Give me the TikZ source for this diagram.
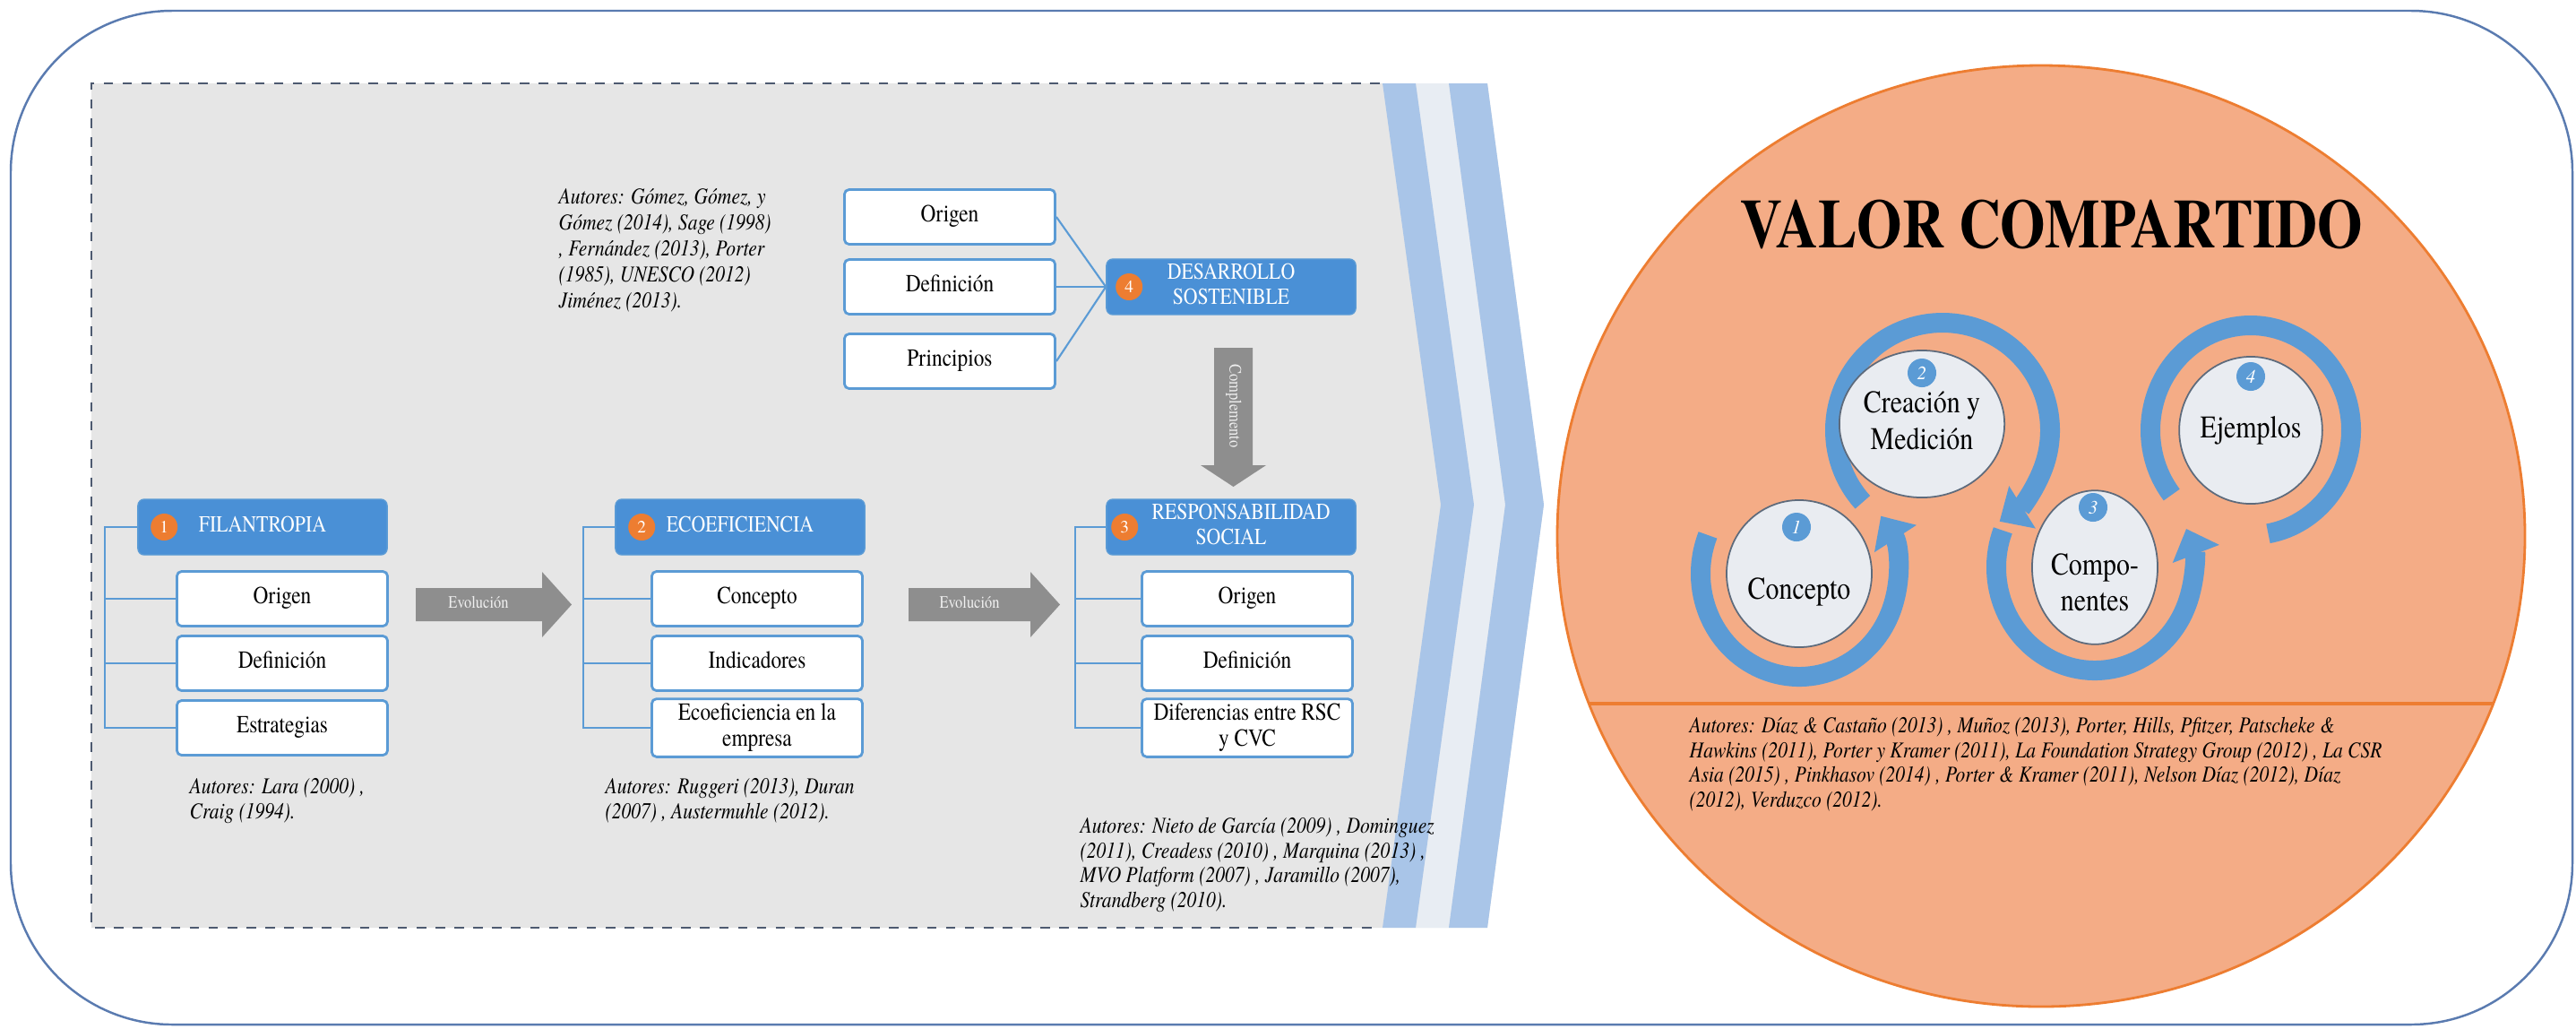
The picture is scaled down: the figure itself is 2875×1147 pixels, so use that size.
\documentclass[tikz,border=0pt]{standalone}
\usepackage{fontspec}
\setmainfont{texgyretermes}[Extension=.otf, UprightFont=*-regular, BoldFont=*-bold, ItalicFont=*-italic, BoldItalicFont=*-bolditalic]
\usetikzlibrary{arrows.meta,calc,shapes.geometric}
\newcommand\sx[1]{\scalebox{0.85}[1]{\begin{tabular}{@{}c@{}}#1\end{tabular}}}
\newcommand\sxl[1]{\scalebox{0.85}[1]{\begin{tabular}{@{}l@{}}#1\end{tabular}}}
\definecolor{frameblue}{HTML}{5A7BB0}
\definecolor{panelgray}{HTML}{E6E6E6}
\definecolor{stripeblue}{HTML}{A9C5E8}
\definecolor{stripelight}{HTML}{E8EDF3}
\definecolor{hdrblue}{HTML}{4A90D6}
\definecolor{boxblue}{HTML}{5B9BD5}
\definecolor{numorange}{HTML}{ED7D31}
\definecolor{arrowgray}{HTML}{8E8E8E}
\definecolor{circorange}{HTML}{F4AC86}
\definecolor{circline}{HTML}{ED7D31}
\definecolor{ringblue}{HTML}{5B9BD5}
\definecolor{cyclefill}{HTML}{E9ECF1}
\definecolor{cycleline}{HTML}{5E6B7C}
\definecolor{dashcol}{HTML}{4D5A70}
\begin{document}
\begin{tikzpicture}[x=0.01cm,y=0.01cm,
  hdr/.style={draw=boxblue, fill=hdrblue, rounded corners=2pt, text=white, minimum width=27.8mm, minimum height=6.2mm, font=\fontsize{7.3}{7.8}\selectfont, inner sep=1pt},
  itembox/.style={draw=boxblue, fill=white, rounded corners=1.5pt, minimum width=23.5mm, minimum height=6.1mm, font=\fontsize{7.8}{8.2}\selectfont, line width=0.8pt, inner sep=1pt},
  num/.style={circle, fill=numorange, text=white, inner sep=0pt, minimum size=3mm, font=\fontsize{5.5}{6}\selectfont},
  autores/.style={anchor=north west, inner sep=0pt, font=\fontsize{7.2}{7.8}\selectfont\itshape},
  brk/.style={draw=boxblue, line width=0.8pt},
  link/.style={draw=boxblue, line width=0.6pt},
  arrowtxt/.style={text=white!88!gray, font=\fontsize{5.5}{6}\selectfont, inner sep=0pt},
  cyc/.style={ellipse, draw=cycleline, fill=cyclefill, line width=0.5pt, minimum width=14mm, minimum height=16.4mm, inner sep=0pt, font=\fontsize{10}{11.5}\selectfont},
  cnum/.style={circle, fill=ringblue, text=white, inner sep=0pt, minimum size=3.2mm, font=\fontsize{6}{6}\selectfont\itshape},
  ring/.style={draw=ringblue, line width=2.2mm},
  ringtip/.style={-{Triangle[length=3mm,width=5.4mm]}}
]
\useasboundingbox (0,0) rectangle (2875,-1147);
% outer frame
\draw[frameblue, line width=0.7pt, rounded corners=18mm] (12,-12) rectangle (2871,-1143);
% left panel with chevron
\fill[panelgray] (102,-93) -- (1660,-93) -- (1723,-563) -- (1660,-1035) -- (102,-1035) -- cycle;
\fill[stripelight] (1580,-93) -- (1617,-93) -- (1680,-563) -- (1617,-1035) -- (1580,-1035) -- (1645,-563) -- cycle;
\fill[stripeblue] (1543,-93) -- (1580,-93) -- (1645,-563) -- (1580,-1035) -- (1543,-1035) -- (1608,-563) -- cycle;
\fill[stripeblue] (1617,-93) -- (1660,-93) -- (1723,-563) -- (1660,-1035) -- (1617,-1035) -- (1680,-563) -- cycle;
\draw[dashcol, dashed, line width=0.6pt] (1540,-93) -- (102,-93) -- (102,-1035) -- (1540,-1035);

% group 1
\node[hdr] (H1) at (293,-588) {\sx{FILANTROPIA}};
\node[itembox] (B11) at (315,-668) {\sx{Origen}};
\node[itembox] (B12) at (315,-740) {\sx{Definición}};
\node[itembox] (B13) at (315,-812) {\sx{Estrategias}};
\coordinate (v1) at (117,-588);
\draw[brk] (H1.west) -- (v1) |- (B13.west);
\draw[brk] (B11.west) -- (B11.west -| v1);
\draw[brk] (B12.west) -- (B12.west -| v1);
\node[num] (n1) at ($(H1.west)+(30,0)$) {1};

% group 2
\node[hdr] (H2) at (826,-588) {\sx{ECOEFICIENCIA}};
\node[itembox] (B21) at (845,-668) {\sx{Concepto}};
\node[itembox] (B22) at (845,-740) {\sx{Indicadores}};
\node[itembox] (B23) at (845,-812) {\sx{Ecoeficiencia en la\\empresa}};
\coordinate (v2) at (651,-588);
\draw[brk] (H2.west) -- (v2) |- (B23.west);
\draw[brk] (B21.west) -- (B21.west -| v2);
\draw[brk] (B22.west) -- (B22.west -| v2);
\node[num] (n2) at ($(H2.west)+(30,0)$) {2};

% group 3
\node[hdr] (H3) at (1374,-588) {\sx{\hspace*{2.6mm}RESPONSABILIDAD\\SOCIAL}};
\node[itembox] (B31) at (1392,-668) {\sx{Origen}};
\node[itembox] (B32) at (1392,-740) {\sx{Definición}};
\node[itembox] (B33) at (1392,-812) {\sx{Diferencias entre RSC\\y CVC}};
\coordinate (v3) at (1200,-588);
\draw[brk] (H3.west) -- (v3) |- (B33.west);
\draw[brk] (B31.west) -- (B31.west -| v3);
\draw[brk] (B32.west) -- (B32.west -| v3);
\node[num] (n3) at ($(H3.west)+(21,0)$) {3};

% group 4
\node[itembox] (B41) at (1060,-242) {\sx{Origen}};
\node[itembox] (B42) at (1060,-320) {\sx{Definición}};
\node[itembox] (B43) at (1060,-403) {\sx{Principios}};
\node[hdr] (H4) at (1374,-320) {\sx{DESARROLLO\\SOSTENIBLE}};
\draw[link] (B41.east) -- (H4.west);
\draw[link] (B42.east) -- (H4.west);
\draw[link] (B43.east) -- (H4.west);
\node[num] (n4) at ($(H4.west)+(26,0)$) {4};

% block arrows
\fill[arrowgray] (464,-656) -- (605,-656) -- (605,-638) -- (638,-674.5) -- (605,-711) -- (605,-693) -- (464,-693) -- cycle;
\node[arrowtxt] (ev1) at (534,-674.5) {\sx{Evolución}};
\fill[arrowgray] (1014,-656) -- (1150,-656) -- (1150,-638) -- (1183,-674.5) -- (1150,-711) -- (1150,-693) -- (1014,-693) -- cycle;
\node[arrowtxt] (ev2) at (1082,-674.5) {\sx{Evolución}};
\fill[arrowgray] (1355,-388) -- (1398,-388) -- (1398,-519) -- (1413,-519) -- (1376.5,-543) -- (1340,-519) -- (1355,-519) -- cycle;
\node[arrowtxt, rotate=-90] (comp) at (1376.5,-453) {\sx{Complemento}};

% autores
\node[autores] (A1) at (211,-866) {\sxl{Autores: Lara (2000) ,\\Craig (1994).}};
\node[autores] (A2) at (675,-866) {\sxl{Autores: Ruggeri (2013), Duran\\(2007) , Austermuhle (2012).}};
\node[autores] (A3) at (1205,-910) {\sxl{Autores: Nieto de García (2009) , Dominguez\\(2011), Creadess (2010) , Marquina (2013) ,\\MVO Platform (2007) , Jaramillo (2007),\\Strandberg (2010).}};
\node[autores, font=\fontsize{7.2}{8.2}\selectfont\itshape] (A4) at (623,-207) {\sxl{Autores: Gómez, Gómez, y\\Gómez (2014), Sage (1998)\\, Fernández (2013), Porter\\(1985), UNESCO (2012)\\Jiménez (2013).}};

% right circle
\draw[circline, fill=circorange, line width=0.8pt] (2278,-598) ellipse [x radius=540, y radius=525];
\begin{scope}
\clip (2278,-598) ellipse [x radius=540, y radius=525];
\draw[circline, line width=1.4pt] (1700,-785) -- (2860,-785);
\end{scope}
\node[font=\bfseries\fontsize{22}{24}\selectfont] (title) at (2290,-250) {\scalebox{0.84}[1]{VALOR COMPARTIDO}};

\coordinate (c1) at (2008,-640);
\coordinate (c2) at (2145,-473);
\coordinate (c3) at (2338,-633);
\coordinate (c4) at (2512,-480);
\coordinate (r2) at (2168,-480);
\draw[ring] (c4) ++(218:112 and 117) arc[start angle=218, end angle=-80, x radius=112, y radius=117];
\draw[ring, ringtip] (c1) ++(158:110 and 115) arc[start angle=158, end angle=394, x radius=110, y radius=115];
\draw[ring, ringtip] (c3) ++(159:110 and 115) arc[start angle=159, end angle=382, x radius=110, y radius=115];
\draw[ring, ringtip] (r2) ++(222:120 and 120) arc[start angle=222, end angle=-58, x radius=120, y radius=120];
\node[cyc] (C1) at (c1) {\sx{\\Concepto}};
\node[cyc] (C2) at (c2) {\sx{Creación y\\Medición}};
\node[cyc] (C3) at (c3) {\sx{\\Compo-\\nentes}};
\node[cyc] (C4) at (c4) {\sx{Ejemplos}};
\node[cnum] (m1) at (2005,-588) {1};
\node[cnum] (m2) at (2145,-416) {2};
\node[cnum] (m3) at (2336,-566) {3};
\node[cnum] (m4) at (2512,-420) {4};

\node[autores] (A5) at (1885,-798) {\sxl{Autores: Díaz \& Castaño (2013) , Muñoz (2013), Porter, Hills, Pfitzer, Patscheke \&\\Hawkins (2011), Porter y Kramer (2011), La Foundation Strategy Group (2012) , La CSR\\Asia (2015) , Pinkhasov (2014) , Porter \& Kramer (2011), Nelson Díaz (2012), Díaz\\(2012), Verduzco (2012).}};
\end{tikzpicture}
\end{document}
